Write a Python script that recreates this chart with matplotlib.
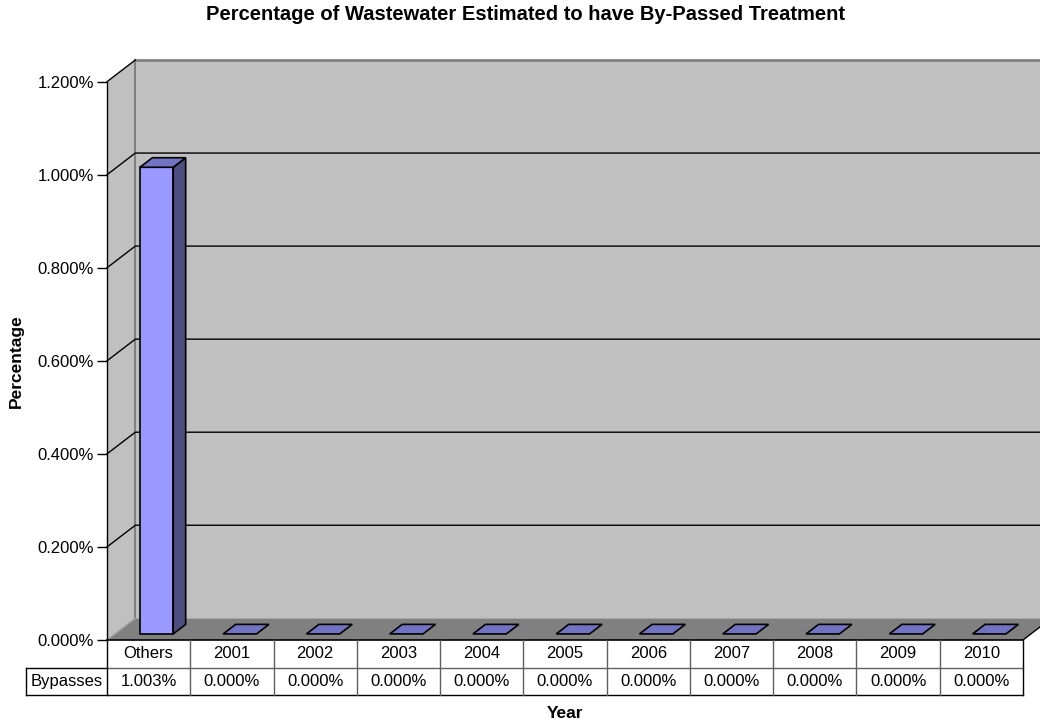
import matplotlib.pyplot as plt
from matplotlib.patches import Polygon
import numpy as np

plt.rcParams['font.family'] = ['Liberation Sans', 'DejaVu Sans']

# data (values in percent)
categories = ['Others', '2001', '2002', '2003', '2004', '2005',
              '2006', '2007', '2008', '2009', '2010']
bypasses = [1.003, 0.0, 0.0, 0.0, 0.0, 0.0, 0.0, 0.0, 0.0, 0.0, 0.0]
series_name = 'Bypasses'
yticks = [0.0, 0.2, 0.4, 0.6, 0.8, 1.0, 1.2]

title = 'Percentage of Wastewater Estimated to have By-Passed Treatment'

W, H = 1040, 727
fig = plt.figure(figsize=(W / 100, H / 100), dpi=100)
ax = fig.add_axes([107 / W, 87 / H, 916 / W, 558.3 / H])

n = len(categories)
ymax = yticks[-1]
ax.set_xlim(0, n)
ax.set_ylim(0, ymax)

# fake 3d depth offset in data units
dx = 28.3 / 916 * n
dy = 21.7 / 558.3 * ymax
far = n + 2  # walls run off the right edge

def poly(pts, fc, ec='none', lw=0, z=1):
    ax.add_patch(Polygon(pts, closed=True, facecolor=fc, edgecolor=ec,
                         linewidth=lw, zorder=z, clip_on=False,
                         joinstyle='miter'))

# back wall, side wall, floor
poly([(dx, dy), (far, dy), (far, ymax + dy), (dx, ymax + dy)], '#C0C0C0', z=1)
poly([(0, 0), (dx, dy), (dx, ymax + dy), (0, ymax)], '#C0C0C0', z=1)
ax.plot([dx, dx], [dy, ymax + dy], color='#808080', lw=1.5, zorder=2, clip_on=False)
ax.plot([dx, far], [ymax + dy, ymax + dy], color='#808080', lw=2, zorder=2, clip_on=False)

for v in yticks[1:]:
    if v < ymax:
        ax.plot([0, dx, far], [v, v + dy, v + dy], color='black', lw=1,
                zorder=2, clip_on=False)
    else:
        ax.plot([0, dx], [v, v + dy], color='black', lw=1, zorder=2, clip_on=False)

poly([(0, 0), (n, 0), (n + dx, dy), (far, dy), (far, dy), (dx, dy)], '#808080', z=3)
ax.plot([n, n + dx], [0, dy], color='black', lw=1, zorder=3, clip_on=False)
ax.plot([0, dx], [0, dy], color='#A0A0A0', lw=1, zorder=3, clip_on=False)

# bars
bw = 0.4
f1, f2 = 0.28, 0.72
for i, val in enumerate(bypasses):
    x0 = i + 0.5 - bw / 2 + f1 * dx
    x1 = x0 + bw
    y0 = f1 * dy
    ddx = (f2 - f1) * dx
    ddy = (f2 - f1) * dy
    if val > 0:
        poly([(x0, y0), (x1, y0), (x1, y0 + val), (x0, y0 + val)],
             '#9999FF', 'black', 1.2, 5)
        poly([(x1, y0), (x1 + ddx, y0 + ddy), (x1 + ddx, y0 + val + ddy),
              (x1, y0 + val)], '#4D4D80', 'black', 1.2, 5)
    poly([(x0, y0 + val), (x1, y0 + val), (x1 + ddx, y0 + val + ddy),
          (x0 + ddx, y0 + val + ddy)], '#7373C4', 'black', 1.2, 6)

# axis styling
for s in ['top', 'right', 'bottom']:
    ax.spines[s].set_visible(False)
ax.spines['left'].set_zorder(7)
ax.spines['left'].set_linewidth(1)
ax.set_xticks([])
ax.set_yticks(yticks)
ax.set_yticklabels(['{:.3f}%'.format(v) for v in yticks])
ax.tick_params(axis='y', direction='out', length=7.2, width=1, pad=2,
               labelsize=12)
ax.patch.set_visible(False)

# data table under the plot
fs = 12
r1 = -28 / 558.3
r2 = -55 / 558.3
lab_x = -81 / 916
tr = ax.transAxes
lk = dict(transform=tr, clip_on=False, zorder=8)
ax.plot([0, 1], [0, 0], color='black', lw=1.2, **lk)
ax.plot([0, 1], [r1, r1], color='#606060', lw=1, **lk)
ax.plot([lab_x, 1], [r2, r2], color='black', lw=1, **lk)
ax.plot([lab_x, 0], [r1, r1], color='black', lw=1, **lk)
ax.plot([lab_x, lab_x], [r1, r2], color='black', lw=1, **lk)
for i in range(n + 1):
    xf = i / n
    c = 'black' if i in (0, n) else '#606060'
    ax.plot([xf, xf], [0, r2], color=c, lw=1, **lk)
for i, (cat, val) in enumerate(zip(categories, bypasses)):
    xc = (i + 0.5) / n
    ax.text(xc, r1 / 2, cat, ha='center', va='center', fontsize=fs, transform=tr)
    ax.text(xc, (r1 + r2) / 2, '{:.3f}%'.format(val), ha='center',
            va='center', fontsize=fs, transform=tr)
ax.text(lab_x / 2, (r1 + r2) / 2, series_name, ha='center', va='center',
        fontsize=fs, transform=tr)

fig.text(526 / W, 1 - 15 / H, title, ha='center', va='center', fontsize=14.5,
         fontweight='bold')
fig.text(16 / W, 1 - 361 / H, 'Percentage', ha='center', va='center',
         rotation=90, fontsize=12.5, fontweight='bold')
fig.text(565 / W, 1 - 713 / H, 'Year', ha='center', va='center',
         fontsize=12.5, fontweight='bold')

fig.savefig('out.png', dpi=100)
